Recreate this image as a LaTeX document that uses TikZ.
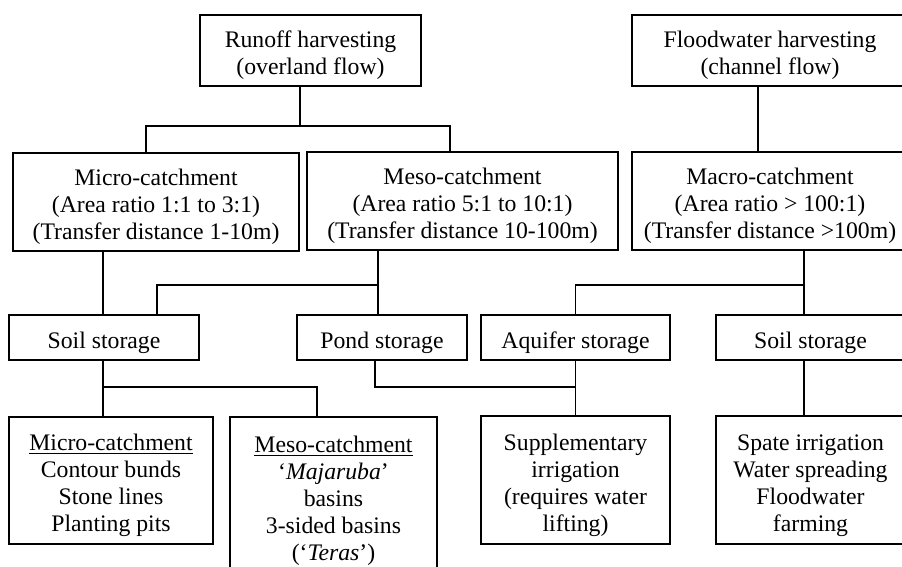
\documentclass[tikz,border=0pt]{standalone}
\usepackage{fontspec}
\setmainfont{Liberation Serif}
\newcommand{\topgap}{\rule{0pt}{15pt}}
\tikzset{
  B/.style={draw, line width=1pt, align=center, inner sep=0pt,
    font=\fontsize{13.5}{15.4}\selectfont},
  L/.style={line width=1.1pt},
}

\begin{document}
\begin{tikzpicture}[x=0.02cm, y=-0.02cm]
\clip (0,0) rectangle (902,566);

% harvesting types
\node[B, minimum width=4.42cm, minimum height=1.42cm] at (310.5,50.5) (runoff)
  {\topgap Runoff harvesting\\(overland flow)};
\node[B, minimum width=5.52cm, minimum height=1.42cm] at (770,50.5) (flood)
  {\topgap Floodwater harvesting\\(channel flow)};

% catchment classes
\node[B, minimum width=5.72cm, minimum height=1.96cm] at (156,202) (micro)
  {\topgap Micro-catchment\\(Area ratio 1:1 to 3:1)\\(Transfer distance 1-10m)};
\node[B, minimum width=6.22cm, minimum height=1.96cm] at (462.5,201) (meso)
  {\topgap Meso-catchment\\(Area ratio 5:1 to 10:1)\\(Transfer distance 10-100m)};
\node[B, minimum width=5.52cm, minimum height=1.96cm] at (770,201) (macro)
  {\topgap Macro-catchment\\(Area ratio > 100:1)\\(Transfer distance >100m)};

% storage
\node[B, minimum width=3.8cm, minimum height=0.9cm] at (104,337.5) (soilA)
  {\topgap Soil storage};
\node[B, minimum width=3.4cm, minimum height=0.9cm] at (382,337.5) (pond)
  {\topgap Pond storage};
\node[B, minimum width=3.78cm, minimum height=0.9cm] at (575.5,337.5) (aquifer)
  {\topgap Aquifer storage};
\node[B, minimum width=3.78cm, minimum height=0.9cm] at (810.5,337.5) (soilB)
  {\topgap Soil storage};

% techniques
\node[B, minimum width=4.08cm, minimum height=2.54cm] at (111,480.5) (microT)
  {\topgap\underline{Micro-catchment}\\Contour bunds\\Stone lines\\Planting pits};
\node[B, minimum width=4.14cm, minimum height=3.16cm] at (333.5,496) (mesoT)
  {\topgap\underline{Meso-catchment}\\‘\textit{Majaruba}’\\basins\\3-sided basins\\(‘\textit{Teras}’)};
\node[B, minimum width=3.78cm, minimum height=2.56cm] at (575.5,480) (supp)
  {\topgap Supplementary\\irrigation\\(requires water\\lifting)};
\node[B, minimum width=3.78cm, minimum height=2.56cm] at (810.5,480) (spate)
  {\topgap Spate irrigation\\Water spreading\\Floodwater\\farming};

% junctions
\coordinate (rj) at (300,126);
\coordinate (rjA) at (146,126);
\coordinate (rjB) at (450,126);
\coordinate (fj) at (758,0);
\coordinate (mej) at (378,285);
\coordinate (sj) at (157,285);
\coordinate (maj) at (804,285);
\coordinate (soj) at (103,387);
\coordinate (sojB) at (317,387);
\coordinate (pj) at (375,387);

% connectors
\draw[L] (rj |- runoff.south) -- (rj);
\draw[L] (rjA |- micro.north) -- (rjA) -- (rjB) -- (rjB |- meso.north);
\draw[L] (fj |- flood.south) -- (fj |- macro.north);
\draw[L] (soj |- micro.south) -- (soj |- soilA.north);
\draw[L] (mej |- meso.south) -- (mej |- pond.north);
\draw[L] (mej) -- (sj) -- (sj |- soilA.north);
\draw[L] (maj |- macro.south) -- (maj |- soilB.north);
\draw[L] (maj) -| (aquifer.north);
\draw[L] (soj |- soilA.south) -- (soj |- microT.north);
\draw[L] (soj) -- (sojB) -- (sojB |- mesoT.north);
\draw[L] (pj |- pond.south) -- (pj) -- (pj -| aquifer.south);
\draw[L] (aquifer.south) -- (supp.north);
\draw[L] (maj |- soilB.south) -- (maj |- spate.north);

\end{tikzpicture}
\end{document}
